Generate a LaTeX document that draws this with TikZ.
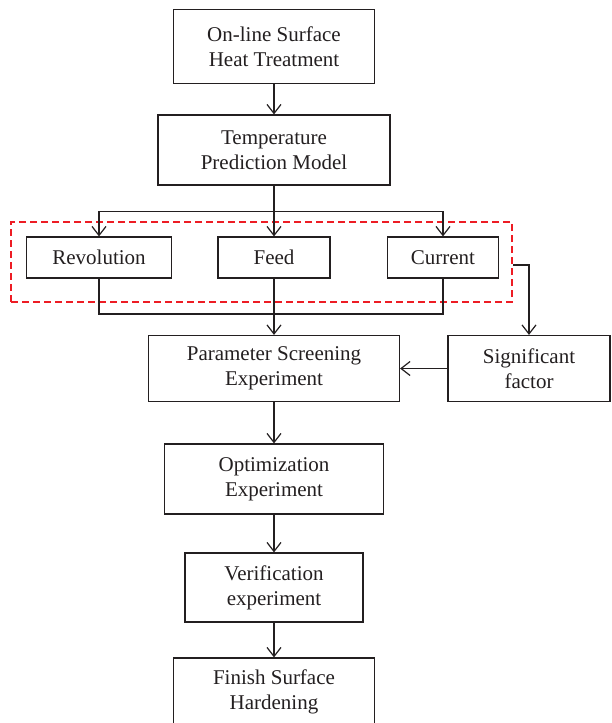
\documentclass[tikz,border=0pt]{standalone}
\usepackage{fontspec}
\setmainfont{Liberation Serif}
\usetikzlibrary{arrows.meta}
\definecolor{ink}{RGB}{35,31,32}
\definecolor{dred}{RGB}{237,28,36}
\tikzset{
  box/.style={draw=ink, line width=1.2pt, rectangle, align=center, inner sep=0pt,
    text=ink, font=\fontsize{21}{25}\selectfont},
  conn/.style={draw=ink, line width=1.2pt},
  arr/.style={conn, -{Straight Barb[length=9pt,width=14pt,line width=1.2pt]}},
  grpbox/.style={draw=dred, line width=1.5pt, dash pattern=on 7pt off 4pt, inner sep=0pt},
}
\begin{document}
\begin{tikzpicture}[x=1pt,y=-1pt]
\useasboundingbox (0,0) rectangle (611,723);
\clip (0,0) rectangle (611,723);
\node[box, minimum width=201pt, minimum height=74pt] (top) at (274,46.5) {On-line Surface\\Heat Treatment};
\node[box, minimum width=232pt, minimum height=70pt] (tpm) at (274,150) {Temperature\\Prediction Model};
\node[box, minimum width=145pt, minimum height=41pt] (rev) at (99,257.5) {Revolution};
\node[box, minimum width=112pt, minimum height=41pt] (feed) at (274,257.5) {Feed};
\node[box, minimum width=111pt, minimum height=41pt] (cur) at (443,257.5) {Current};
\node[grpbox, minimum width=501pt, minimum height=80pt] (grp) at (261.5,262) {};
\node[box, minimum width=251pt, minimum height=66pt] (pse) at (274,368.5) {Parameter Screening\\Experiment};
\node[box, minimum width=162pt, minimum height=66pt] (sig) at (529,368.5) {Significant\\factor};
\node[box, minimum width=219pt, minimum height=70pt] (opt) at (274,479) {Optimization\\Experiment};
\node[box, minimum width=178pt, minimum height=69pt] (ver) at (274,587.5) {Verification\\experiment};
\node[box, minimum width=201pt, minimum height=68pt] (fin) at (274,692) {Finish Surface\\Hardening};
\coordinate (split) at (274,211.5);
\coordinate (merge) at (274,314);
\draw[arr] (top) -- (tpm);
\draw[conn] (tpm.south) -- (split);
\draw[arr] (split) -| (rev.north);
\draw[arr] (split) -| (cur.north);
\draw[arr] (split) -- (feed.north);
\draw[conn] (rev.south) |- (merge) -| (cur.south);
\draw[arr] (feed.south) -- (pse.north);
\draw[arr] ([yshift=-3pt]grp.east) -| (sig.north);
\draw[arr] (sig.west) -- (pse.east);
\draw[arr] (pse) -- (opt);
\draw[arr] (opt) -- (ver);
\draw[arr] (ver) -- (fin);
\end{tikzpicture}
\end{document}
